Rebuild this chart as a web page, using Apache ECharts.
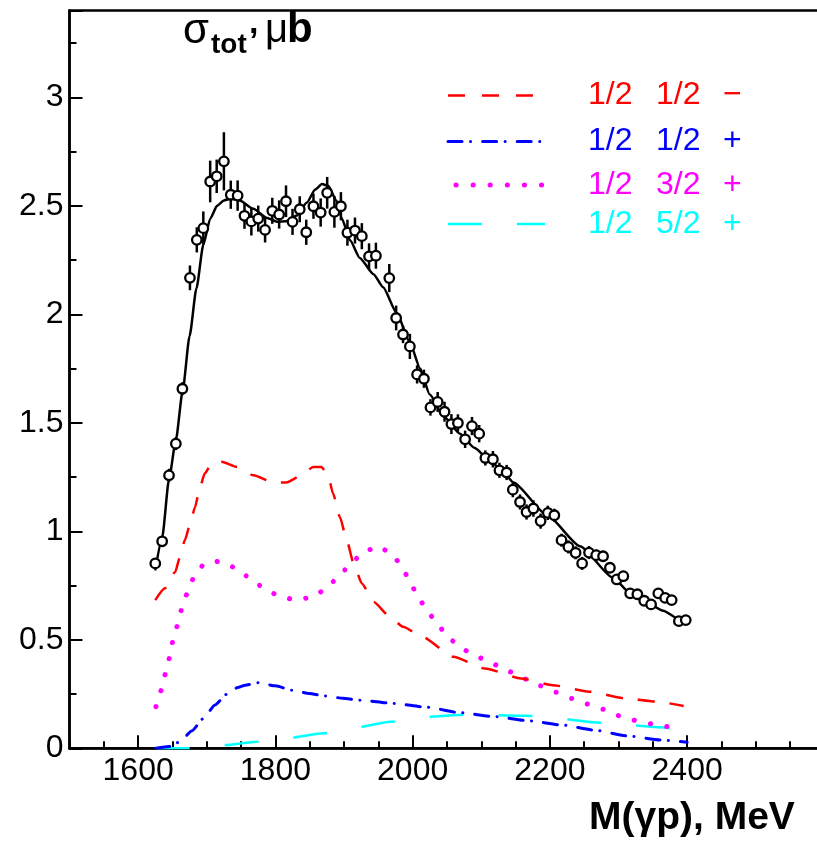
<!DOCTYPE html>
<html><head><meta charset="utf-8">
<script src="https://cdn.jsdelivr.net/npm/echarts@6/dist/echarts.min.js"></script>
<style>html,body{margin:0;padding:0;background:#fff;overflow:hidden;width:817px;height:849px}#c{width:893px;height:849px}</style>
</head><body><div id="c"></div>
<script>
// Measured points: M(γp) in MeV, σ in μb, error
const dataX = [1625,1635,1645,1655,1664.5,1675.5,1685.5,1695,1705,1714.5,1725,1735,1745,1755,1765,1775,1785,1795.5,1805.5,1815.5,1825,1835.5,1845,1855.5,1866,1875.5,1886,1895.5,1905,1916,1926,1936.5,1946.5,1966,1976,1986,1996,2006.5,2016.5,2026,2036.5,2046.5,2056.5,2066,2076.5,2086.5,2097,2106,2117,2126.5,2137,2146,2156.5,2166,2176,2186.5,2197,2206.5,2217,2227,2237.5,2247,2257,2267.5,2277.5,2287.5,2297.5,2307,2317,2327.5,2337.5,2347.5,2358,2368,2377.5,2388,2398];
const dataY = [0.852,0.954,1.258,1.404,1.657,2.168,2.343,2.397,2.612,2.636,2.705,2.551,2.547,2.454,2.428,2.441,2.389,2.477,2.460,2.521,2.426,2.484,2.378,2.498,2.469,2.560,2.472,2.498,2.376,2.386,2.360,2.267,2.270,2.167,1.983,1.907,1.852,1.723,1.703,1.571,1.596,1.551,1.494,1.499,1.424,1.485,1.450,1.338,1.332,1.281,1.271,1.192,1.135,1.089,1.105,1.047,1.085,1.074,0.959,0.928,0.901,0.852,0.902,0.890,0.885,0.832,0.778,0.793,0.714,0.710,0.680,0.663,0.714,0.693,0.683,0.586,0.591];
const dataErr = [0.02,0.025,0.03,0.03,0.03,0.057,0.058,0.077,0.096,0.077,0.134,0.065,0.07,0.06,0.065,0.06,0.058,0.06,0.065,0.073,0.06,0.06,0.058,0.058,0.065,0.073,0.073,0.065,0.06,0.06,0.06,0.06,0.06,0.065,0.057,0.04,0.058,0.042,0.042,0.038,0.046,0.046,0.046,0.04,0.04,0.042,0.04,0.035,0.038,0.035,0.035,0.035,0.035,0.035,0.038,0.035,0.033,0.03,0.03,0.03,0.03,0.03,0.03,0.025,0.025,0.025,0.025,0.025,0.02,0.02,0.02,0.02,0.02,0.02,0.02,0.015,0.015];

// Fit curve (total)
const fitX = [1625,1635,1645,1655,1665,1675,1685,1695,1705,1715,1725,1735,1748,1768,1787,1802,1816,1831,1846,1858,1868,1877,1889,1897,1909,1923,1943,1957,1977,1996,2011,2025,2045,2069,2090,2113,2130,2147,2195,2244,2292,2317,2341,2365,2390,2399];
const fitY = [0.82,0.97,1.24,1.42,1.65,1.90,2.12,2.32,2.44,2.50,2.525,2.533,2.524,2.486,2.445,2.427,2.429,2.455,2.515,2.575,2.60,2.592,2.524,2.44,2.34,2.26,2.185,2.125,2.005,1.87,1.75,1.63,1.53,1.45,1.385,1.325,1.28,1.225,1.077,0.931,0.786,0.716,0.673,0.634,0.592,0.583];

// 1/2 1/2 −
const redX = [1625,1639,1654,1661,1668,1676,1683,1689,1697,1707,1722,1744,1768,1797,1816,1836,1855,1867,1877,1884,1894,1904,1914,1926,1943,1967,1986,2014,2059,2105,2158,2204,2257,2310,2355,2395];
const redY = [0.683,0.737,0.813,0.882,0.959,1.036,1.112,1.189,1.266,1.312,1.320,1.296,1.258,1.225,1.225,1.254,1.296,1.296,1.258,1.174,1.066,0.959,0.852,0.760,0.675,0.606,0.560,0.514,0.422,0.368,0.322,0.291,0.261,0.230,0.215,0.195];

// 1/2 1/2 +
const blueX = [1626,1645,1661,1678,1695,1712,1729,1745,1756,1775,1800,1824,1849,1873,1898,1923,1972,2021,2069,2120,2169,2219,2264,2314,2363,2400];
const blueY = [0.0,0.008,0.03,0.08,0.137,0.2,0.249,0.28,0.291,0.302,0.288,0.268,0.253,0.241,0.231,0.222,0.207,0.189,0.164,0.146,0.127,0.107,0.084,0.057,0.038,0.028];

// 1/2 3/2 +
const magX = [1626,1634,1640,1646,1651,1658,1664,1672,1682,1697,1720,1744,1763,1784,1806,1830,1854,1875,1892,1910,1927,1950,1971,1985,1997,2008,2023,2038,2053,2073,2095,2118,2141,2164,2186,2209,2232,2255,2278,2301,2327,2349,2375];
const magY = [0.192,0.268,0.345,0.419,0.500,0.571,0.647,0.718,0.793,0.852,0.862,0.829,0.783,0.737,0.701,0.683,0.697,0.737,0.793,0.849,0.902,0.931,0.893,0.832,0.762,0.695,0.624,0.563,0.506,0.456,0.42,0.387,0.353,0.319,0.288,0.258,0.230,0.204,0.180,0.150,0.127,0.112,0.097];

// 1/2 5/2 +
const cyanX = [1626,1673,1700,1725,1773,1821,1870,1923,1967,2021,2067,2120,2166,2218,2263,2317,2360,2375];
const cyanY = [0,0,0.007,0.015,0.03,0.048,0.069,0.099,0.122,0.145,0.153,0.153,0.150,0.136,0.12,0.107,0.097,0.092];

const xMajorTicks = [1600,1800,2000,2200,2400,2600];
const xTickLabels = [1600,1800,2000,2200,2400];
const legendLabels = [['1/2','1/2','\u2212'],['1/2','1/2','+'],['1/2','3/2','+'],['1/2','5/2','+']];
const legendColors = ['#ff0000','#0000ff','#ff00ff','#00ffff'];

const zip = (a,b)=>a.map((v,i)=>[v,b[i]]);
const FF = '"Liberation Sans", Arial, Helvetica, sans-serif';

const chart = echarts.init(document.getElementById('c'), null, {renderer:'canvas', width:893, height:849});

const pts = dataX.map((x,i)=>[x,dataY[i],dataErr[i]]);

const lineSeries = (data,color,width,type,cap)=>({
  type:'line', data, showSymbol:false, symbol:'none', smooth:0.2, smoothMonotone:'x',
  lineStyle:{color, width, type, cap:cap||'butt'}, z:3, silent:true, animation:false
});

// legend graphics
const rowY = [95.5, 141.5, 185, 224];
const sampleStyles = [
  {lineDash:[17,17], lineCap:'butt', lineWidth:2.5},
  {lineDash:[14,8.5,0.1,12], lineCap:'round', lineWidth:3},
  {lineDash:[0.1,17], lineCap:'round', lineWidth:5},
  {lineDash:[34,35], lineCap:'butt', lineWidth:2.5}
];
const graphics = [];
legendColors.forEach((c,i)=>{
  const st = sampleStyles[i];
  graphics.push({type:'line', shape:{x1: i===2?456:448, y1:rowY[i], x2: i===3?545:(i===2?545:543), y2:rowY[i]},
    style:{stroke:c, lineWidth:st.lineWidth, lineDash:st.lineDash, lineCap:st.lineCap}, z:10});
  const xs = [588,656,723];
  legendLabels[i].forEach((t,j)=>{
    graphics.push({type:'text', x:xs[j], y:rowY[i], style:{text:t, fill:c, font:'32px '+FF, align:'left', verticalAlign:'middle'}, z:10});
  });
});
// y title: σ_tot, μb
graphics.push({type:'text', x:183, y:31, style:{text:'σ', fill:'#000', font:'42px '+FF, align:'left', verticalAlign:'middle'}, z:10});
graphics.push({type:'text', x:211, y:45, style:{text:'tot', fill:'#000', font:'bold 28px '+FF, align:'left', verticalAlign:'middle'}, z:10});
graphics.push({type:'text', x:249, y:24, style:{text:',', fill:'#000', font:'bold 34px '+FF, align:'left', verticalAlign:'middle'}, z:10});
graphics.push({type:'text', x:265, y:31, style:{text:'μ', fill:'#000', font:'40px '+FF, align:'left', verticalAlign:'middle'}, z:10});
graphics.push({type:'text', x:287, y:30, style:{text:'b', fill:'#000', font:'bold 42px '+FF, align:'left', verticalAlign:'middle'}, z:10});
// x title
graphics.push({type:'text', x:589, y:818, style:{text:'M(γp), MeV', fill:'#000', font:'bold 39px '+FF, align:'left', verticalAlign:'middle'}, z:10});

const xBase = {type:'value', min:1500, max:2700, gridIndex:0, position:'bottom', splitLine:{show:false}, minorSplitLine:{show:false}};
const option = {
  animation:false,
  backgroundColor:'#fff',
  grid:{left:69.5, right:0, top:10.5, bottom:100.7, show:true, borderColor:'#000', borderWidth:2.5, backgroundColor:'transparent', containLabel:false},
  xAxis:[
    Object.assign({}, xBase, {interval:50,
      axisLine:{show:true, onZero:false, lineStyle:{color:'#000', width:2.5}},
      axisTick:{show:true, inside:true, length:7, lineStyle:{color:'#000', width:2}},
      axisLabel:{show:true, fontSize:32, fontFamily:FF, color:'#000', margin:7, customValues:xTickLabels, formatter:v=>String(v)}
    }),
    Object.assign({}, xBase, {interval:50,
      axisLine:{show:false, onZero:false},
      axisTick:{show:true, inside:true, length:13, lineStyle:{color:'#000', width:2}, customValues:xMajorTicks},
      axisLabel:{show:false}
    })
  ],
  yAxis:{type:'value', min:0, max:3.4, interval:0.5,
    axisLine:{show:true, onZero:false, lineStyle:{color:'#000', width:2.5}},
    axisTick:{show:true, inside:true, length:13, lineStyle:{color:'#000', width:2}},
    minorTick:{show:true, splitNumber:2, length:7, lineStyle:{color:'#000', width:2}},
    splitLine:{show:false}, minorSplitLine:{show:false},
    axisLabel:{fontSize:32, fontFamily:FF, color:'#000', margin:6, showMaxLabel:false,
      formatter:v=> v>3.01 ? '' : String(v)}
  },
  graphic:graphics,
  series:[
    lineSeries(zip(cyanX,cyanY),'#00ffff',2.5,[34,35]),
    lineSeries(zip(blueX,blueY),'#0000ff',3,[14,8.5,0.1,12],'round'),
    lineSeries(zip(magX,magY),'#ff00ff',5,[0.1,16.5],'round'),
    lineSeries(zip(redX,redY),'#ff0000',2.5,[17,15]),
    lineSeries(zip(fitX,fitY),'#000000',2.5,'solid'),
    {type:'custom', data:pts, z:4, silent:true,
      renderItem:(params,api)=>{
        const x=api.value(0), y=api.value(1), e=api.value(2);
        const p1=api.coord([x,y+e]), p2=api.coord([x,y-e]);
        return {type:'line', shape:{x1:p1[0],y1:p1[1],x2:p2[0],y2:p2[1]}, style:{stroke:'#000', lineWidth:2.5}};
      }},
    {type:'scatter', data:pts.map(p=>[p[0],p[1]]), symbol:'circle', symbolSize:9.5, z:5, silent:true,
      itemStyle:{color:'#fff', opacity:1, borderColor:'#000', borderWidth:2.3}}
  ]
};
chart.setOption(option);
</script></body></html>
